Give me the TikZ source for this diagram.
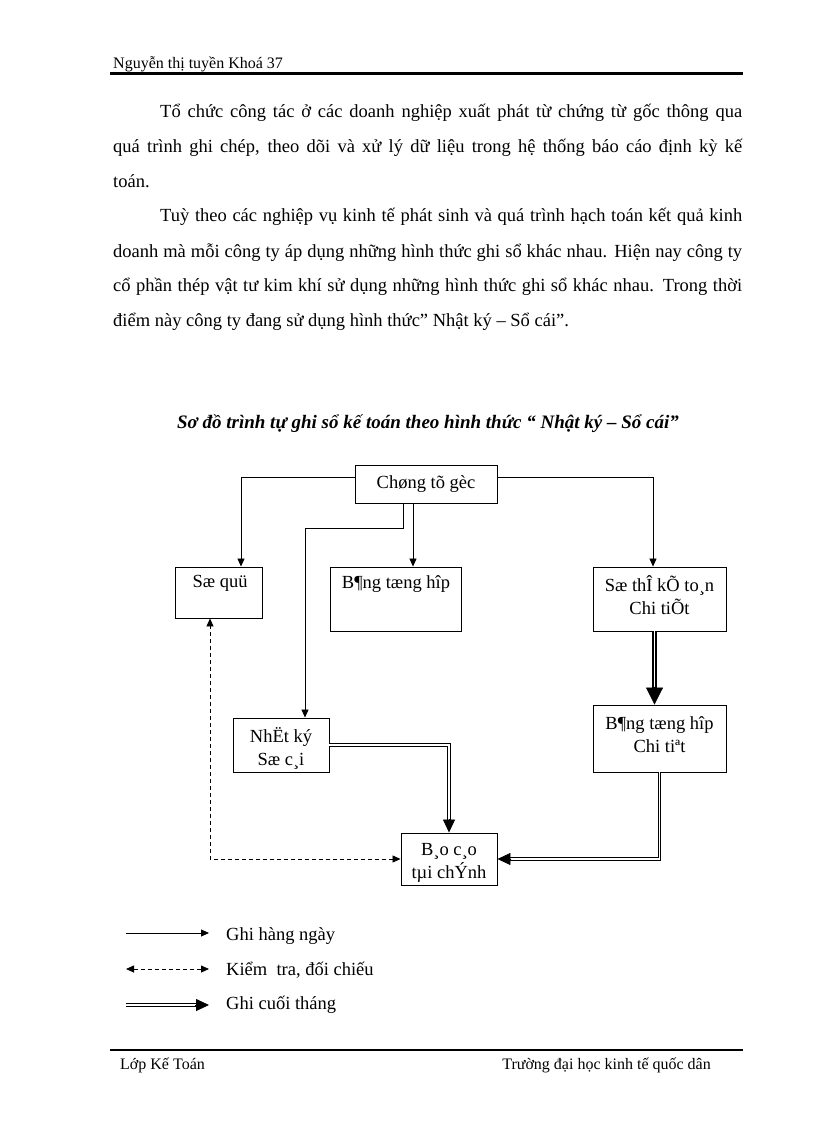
\documentclass[tikz,border=0pt]{standalone}
\usepackage{fontspec}
\setmainfont{Liberation Serif}
\usetikzlibrary{arrows.meta,calc}
\begin{document}
\begin{tikzpicture}[x=1pt,y=-1pt,
  box/.style={draw, line width=0.9pt, inner sep=0pt},
  txt/.style={font=\fontsize{18.5}{23}\selectfont, align=center, inner sep=0pt},
  body/.style={font=\fontsize{18.5}{22}\selectfont, anchor=base west, inner sep=0pt},
  small/.style={font=\fontsize{16}{19}\selectfont, anchor=base west, inner sep=0pt},
  arr/.style={line width=0.8pt, -{Triangle[length=8pt,width=7pt]}},
  dsh/.style={line width=0.8pt, dash pattern=on 4pt off 3pt, {Triangle[length=8pt,width=7pt]}-{Triangle[length=8pt,width=7pt]}},
  dbl/.style={double, line width=1pt, double distance=1.8pt, shorten >=12pt},
  dbltip/.style={line width=0.8pt, -{Triangle[length=13pt,width=12pt]}},
  thk/.style={double, line width=1.6pt, double distance=1.6pt, shorten >=15pt},
  thktip/.style={line width=0.8pt, -{Triangle[length=17pt,width=17pt]}}
]
\useasboundingbox (0,0) rectangle (816,1123);
\fill[white] (0,0) rectangle (816,1123);

% header
\node[small] (hdr) at (113,69) {Nguyễn thị tuyền Khoá 37};
\coordinate (h1) at (110,73.5);
\coordinate (h2) at (743,73.5);
\draw[line width=2.2pt] (h1) -- (h2);

% paragraphs
\node[body] (p1a) at (160,118) {\makebox[582pt][s]{Tổ chức công tác ở các doanh nghiệp xuất phát từ chứng từ gốc thông qua}};
\node[body] (p1b) at (113,153) {\makebox[629pt][s]{quá trình ghi chép, theo dõi và xử lý dữ liệu trong hệ thống báo cáo định kỳ kế}};
\node[body] (p1c) at (113,188) {toán.};
\node[body] (p2a) at (160,222) {\makebox[582pt][s]{Tuỳ theo các nghiệp vụ kinh tế phát sinh và quá trình hạch toán kết quả kinh}};
\node[body] (p2b) at (113,257) {\makebox[629pt][s]{doanh mà mỗi công ty áp dụng những hình thức ghi sổ khác nhau. Hiện nay công ty}};
\node[body] (p2c) at (113,291) {\makebox[629pt][s]{cổ phần thép vật tư kim khí sử dụng những hình thức ghi sổ khác nhau. Trong thời}};
\node[body] (p2d) at (113,326) {điểm này công ty đang sử dụng hình thức” Nhật ký – Sổ cái”.};

% title
\node[font=\fontsize{19}{23}\selectfont\bfseries\itshape, anchor=base, inner sep=0pt] (ttl) at (428,428) {Sơ đồ trình tự ghi sổ kế toán theo hình thức “ Nhật ký – Sổ cái”};

% boxes
\node[box, minimum width=142pt, minimum height=38pt] (C) at (426,484) {};
\node[txt] (Ct) at (426,484) {Chøng tõ gèc};
\node[box, minimum width=87pt, minimum height=51pt] (squy) at (218.5,592.5) {};
\node[txt] (squyt) at (220,583) {Sæ quü};
\node[box, minimum width=131pt, minimum height=64pt] (bth) at (395.5,599) {};
\node[txt] (btht) at (396,584) {B¶ng tæng hîp};
\node[box, minimum width=133pt, minimum height=64pt] (sct) at (659.5,599) {};
\node[txt] (sctt) at (659.5,595) {Sæ thÎ kÕ to¸n\\Chi tiÕt};
\node[box, minimum width=96pt, minimum height=54pt] (nk) at (281,745) {};
\node[txt] (nkt) at (281,748.5) {NhËt ký\\Sæ c¸i};
\node[box, minimum width=133pt, minimum height=67pt] (bct) at (659.5,738.5) {};
\node[txt] (bctt) at (659.5,735) {B¶ng tæng hîp\\Chi tiªt};
\node[box, minimum width=96pt, minimum height=52pt] (bc) at (449,859) {};
\node[txt] (bct2) at (449,862.5) {B¸o c¸o\\tµi chÝnh};

% connectors
\draw[arr] ([yshift=6.5pt]C.west) -| ([xshift=22.5pt]squy.north);
\draw[arr] ([yshift=6.5pt]C.east) -| ([xshift=-6.5pt]sct.north);
\draw[arr] ([xshift=-13pt]C.south) -- ([xshift=-13pt]C.south |- bth.north);
\draw[arr] ([xshift=-23pt]C.south) -- ++(0,25) -| ([xshift=24pt]nk.north);
\draw[thk] ([xshift=-5pt]sct.south) -- ([xshift=-5pt]bct.north);
\draw[thktip] ([xshift=-5pt,yshift=18pt]bct.north) -- ([xshift=-5pt]bct.north);
\draw[dbl] (nk.east) -| (bc.north);
\draw[dbltip] ([yshift=14pt]bc.north) -- (bc.north);
\draw[dbl] (bct.south) |- (bc.east);
\draw[dbltip] ([xshift=14pt]bc.east) -- (bc.east);
\draw[dsh] (bc.west) -| ([xshift=-8.5pt]squy.south);

% legend
\coordinate (l1a) at (126,933); \coordinate (l1b) at (209,933);
\coordinate (l2a) at (126,969); \coordinate (l2b) at (209,969);
\coordinate (l3a) at (126,1005); \coordinate (l3b) at (209,1005);
\draw[arr] (l1a) -- (l1b);
\draw[dsh] (l2a) -- (l2b);
\draw[dbl] (l3a) -- (l3b);
\draw[dbltip] ([xshift=-14pt]l3b) -- (l3b);
\node[body] (g1) at (226,940) {Ghi hàng ngày};
\node[body] (g2) at (226,975) {Kiểm\ \ tra, đối chiếu};
\node[body] (g3) at (226,1009) {Ghi cuối tháng};

% footer
\coordinate (f1) at (110,1050);
\coordinate (f2) at (743,1050);
\draw[line width=2.2pt] (f1) -- (f2);
\node[small] (ft1) at (120,1069) {Lớp Kế Toán};
\node[small, anchor=base east] (ft2) at (711,1069) {Trường đại học kinh tế quốc dân};
\end{tikzpicture}
\end{document}
